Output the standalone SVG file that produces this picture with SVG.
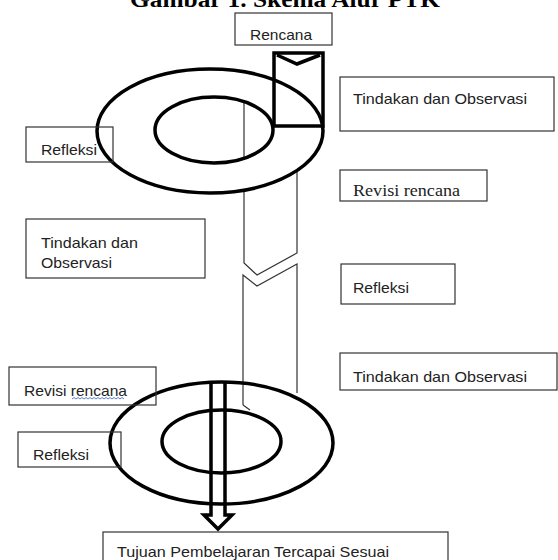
<svg xmlns="http://www.w3.org/2000/svg" width="558" height="560" viewBox="0 0 558 560">
<style>
.box{fill:none;stroke:#333;stroke-width:1.2}
.t{font-family:"Liberation Sans","DejaVu Sans",sans-serif;font-size:15px;fill:#222}
.ts{font-family:"Liberation Serif","Times New Roman",serif;font-size:17.5px;fill:#222}
.thick{fill:none;stroke:#000;stroke-width:3.5}
.pillar{fill:none;stroke:#333;stroke-width:1.2}
</style>
<rect width="558" height="560" fill="#fff"/>
<text x="130" y="7" font-family="Liberation Serif, serif" font-weight="bold" font-size="24" textLength="310" lengthAdjust="spacingAndGlyphs" fill="#000">Gambar 1. Skema Alur PTK</text>

<g id="connectors">
  <!-- pillar upper -->
  <path class="pillar" d="M244,95 V263 L257,275 L297,253 V165"/>
  <path class="pillar" d="M243,405 V275 L257,286 L297,264 V393"/>
  <path class="pillar" d="M243,405 L250,410"/>
</g>

<g id="upper-torus">
  <path d="M97,131 a113,62 0 1,0 226,0 a113,62 0 1,0 -226,0 Z M155,130 a59,33 0 1,0 118,0 a59,33 0 1,0 -118,0 Z" fill="#fff" fill-rule="evenodd"/>
  <ellipse class="thick" cx="210" cy="131" rx="113" ry="62"/>
  <ellipse class="thick" cx="214" cy="130" rx="59" ry="33"/>
</g>
<g id="plan-doc">
  <rect class="thick" x="274" y="53" width="49" height="73"/>
  <path class="thick" d="M277,55 L297,64 L320,55"/>
</g>

<g id="lower-torus">
  <ellipse class="thick" cx="221.5" cy="443" rx="111.5" ry="61"/>
  <ellipse class="thick" cx="221.5" cy="441.5" rx="59.5" ry="31.5"/>
</g>
<g id="goal-arrow">
  <path class="thick" d="M211,382 V515 H204 L218,529 L232,515 H225 V382" stroke-linejoin="miter"/>
</g>

<g id="rencana">
  <rect class="box" x="235" y="13" width="97" height="32"/>
  <text class="t" x="250" y="40" textLength="62" lengthAdjust="spacingAndGlyphs">Rencana</text>
</g>
<g id="tindakan1">
  <rect class="box" x="340" y="77" width="214" height="54"/>
  <text class="t" x="353" y="104" textLength="174" lengthAdjust="spacingAndGlyphs">Tindakan dan Observasi</text>
</g>
<g id="refleksi1">
  <rect class="box" x="26" y="127" width="87" height="35"/>
  <text class="t" x="41" y="155" textLength="56" lengthAdjust="spacingAndGlyphs">Refleksi</text>
</g>
<g id="revisi1">
  <rect class="box" x="340" y="170" width="147" height="31"/>
  <text class="ts" x="353" y="196" textLength="107" lengthAdjust="spacingAndGlyphs">Revisi rencana</text>
</g>
<g id="tindakan2">
  <rect class="box" x="26" y="219" width="179" height="59"/>
  <text class="t" x="41" y="248" textLength="97" lengthAdjust="spacingAndGlyphs">Tindakan dan</text>
  <text class="t" x="41" y="268" textLength="71" lengthAdjust="spacingAndGlyphs">Observasi</text>
</g>
<g id="refleksi2">
  <rect class="box" x="341" y="264" width="114" height="40"/>
  <text class="t" x="353" y="293" textLength="56" lengthAdjust="spacingAndGlyphs">Refleksi</text>
</g>
<g id="tindakan3">
  <rect class="box" x="340" y="353" width="217" height="37"/>
  <text class="t" x="353" y="382" textLength="174" lengthAdjust="spacingAndGlyphs">Tindakan dan Observasi</text>
</g>
<g id="revisi2">
  <rect class="box" x="9" y="367" width="147" height="38"/>
  <text class="t" x="24" y="396" textLength="103" lengthAdjust="spacingAndGlyphs">Revisi rencana</text>
  <path d="M72,399 l2,-1.5 l2,1.5 l2,-1.5 l2,1.5 l2,-1.5 l2,1.5 l2,-1.5 l2,1.5 l2,-1.5 l2,1.5 l2,-1.5 l2,1.5 l2,-1.5 l2,1.5 l2,-1.5 l2,1.5 l2,-1.5 l2,1.5 l2,-1.5 l2,1.5 l2,-1.5 l2,1.5 l2,-1.5 l2,1.5 l2,-1.5 l2,1.5" fill="none" stroke="#4a6fd0" stroke-width="0.9"/>
</g>
<g id="refleksi3">
  <rect class="box" x="18" y="432" width="103" height="35"/>
  <text class="t" x="33" y="460" textLength="56" lengthAdjust="spacingAndGlyphs">Refleksi</text>
</g>
<g id="tujuan">
  <rect class="box" x="103" y="532" width="345" height="40"/>
  <text class="t" x="117" y="557" textLength="272" lengthAdjust="spacingAndGlyphs">Tujuan Pembelajaran Tercapai Sesuai</text>
</g>
</svg>
